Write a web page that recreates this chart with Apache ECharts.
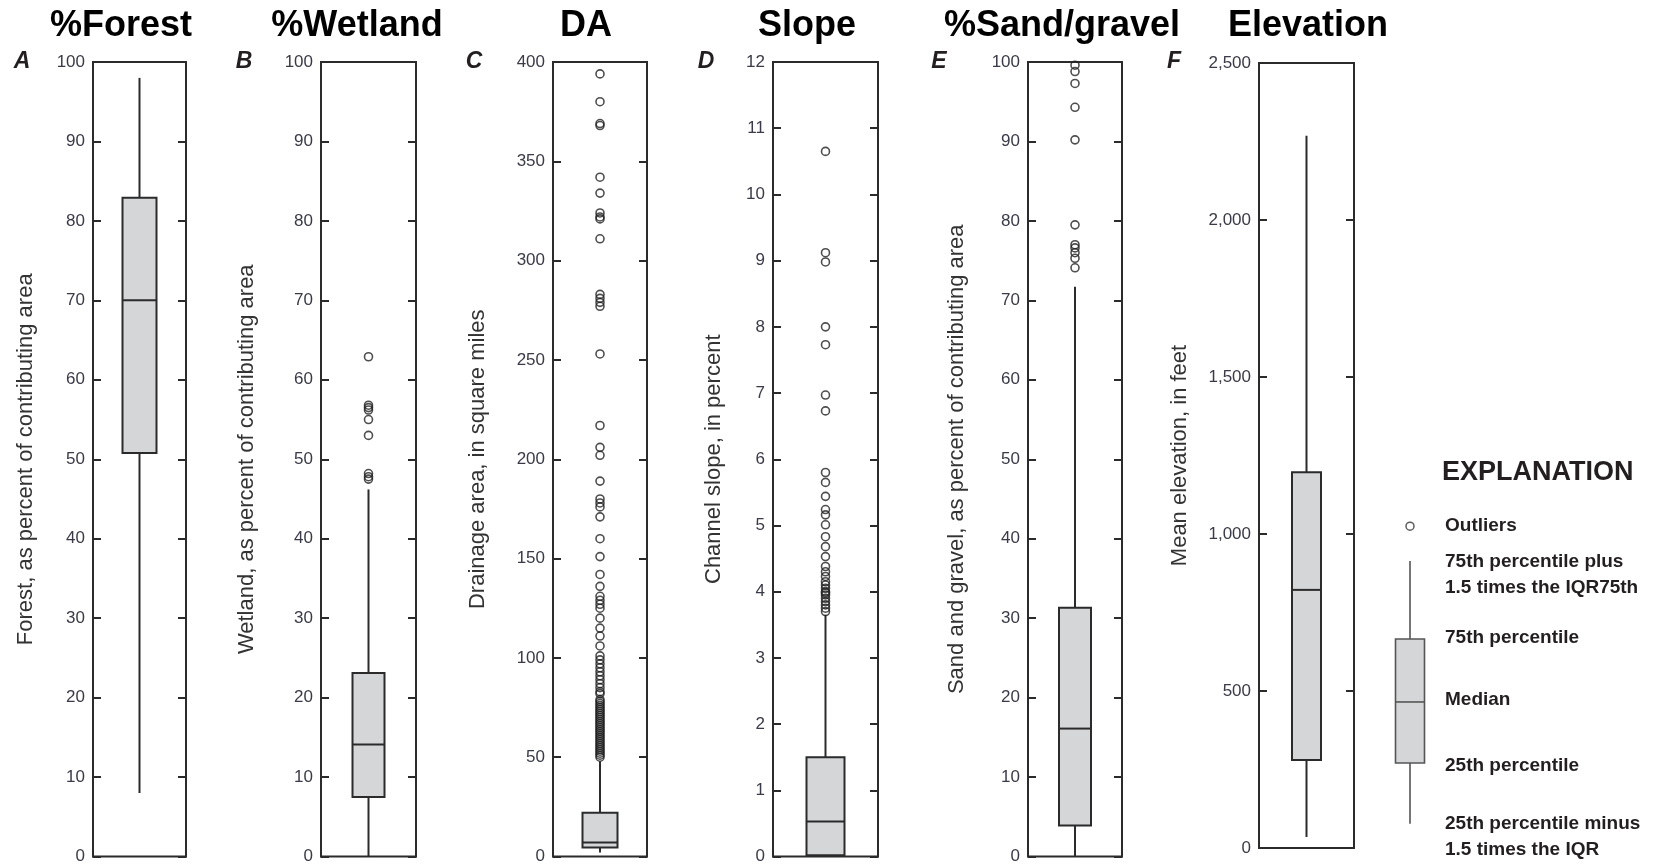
<!DOCTYPE html>
<html>
<head>
<meta charset="utf-8">
<script src="https://cdn.jsdelivr.net/npm/echarts@6/dist/echarts.min.js"></script>
<style>
  html, body { margin: 0; padding: 0; background: #fff; }
  #chart { width: 1659px; height: 865px; }
</style>
</head>
<body>
<div id="chart"></div>
<script>
// ---------- DATA ----------
const panelTitles = ['%Forest', '%Wetland', 'DA', 'Slope', '%Sand/gravel', 'Elevation'];
const panelLetters = ['A', 'B', 'C', 'D', 'E', 'F'];
const axisNames = [
  'Forest, as percent of contributing area',
  'Wetland, as percent of contributing area',
  'Drainage area, in square miles',
  'Channel slope, in percent',
  'Sand and gravel, as percent of contributing area',
  'Mean elevation, in feet'
];
const axisMax = [100, 100, 400, 12, 100, 2500];
const axisStep = [10, 10, 50, 1, 10, 500];

// [lower whisker, 25th, median, 75th, upper whisker]
const forestBox = [8, 50.8, 70, 82.9, 98];
const wetlandBox = [0, 7.5, 14.1, 23.1, 46.2];
const daBox = [2, 4.5, 7, 22, 48];
const slopeBox = [0, 0.02, 0.53, 1.5, 3.65];
const sandBox = [0, 3.9, 16.1, 31.3, 71.7];
const elevBox = [35, 280, 822, 1197, 2268];

const forestOutliers = [];
const wetlandOutliers = [62.9, 56.8, 56.5, 56.2, 55, 53, 48.2, 47.8, 47.5];
const daOutliers = [394, 380, 369, 368, 342, 334, 324, 322, 321, 311, 283, 281, 279, 277, 253,
  217, 206, 202, 189, 180, 178, 176, 171, 160, 151, 142, 136, 131, 129, 127, 125, 120, 115, 111,
  106, 101, 99, 97, 95, 93, 91, 89, 87, 85, 83, 82, 79, 78, 77, 76, 75, 74, 73, 72, 71, 70, 69,
  68, 67, 66, 65, 64, 63, 62, 61, 60, 59, 58, 57, 56, 55, 54, 53, 52, 51, 50];
const slopeOutliers = [10.65, 9.12, 8.98, 8.0, 7.73, 6.97, 6.73, 5.8, 5.65, 5.44, 5.24, 5.16,
  5.01, 4.83, 4.68, 4.53, 4.38, 4.3, 4.23, 4.15, 4.1, 4.05, 4.0, 3.98, 3.95, 3.9, 3.85, 3.8, 3.75, 3.7];
const sandOutliers = [99.6, 98.8, 97.3, 94.3, 90.2, 79.5, 77, 76.6, 76, 75.3, 74.1];
const elevOutliers = [];

// schematic legend glyph (arbitrary scale 0-10)
const legendBox = [0.2, 2.16, 4.13, 6.16, 8.68];
const legendOutlier = [9.8];
const legendLabels = ['Outliers', '75th percentile plus', '1.5 times the IQR75th', '75th percentile',
  'Median', '25th percentile', '25th percentile minus', '1.5 times the IQR'];
const legendTitle = 'EXPLANATION';

// ---------- LAYOUT ----------
const boxes = [forestBox, wetlandBox, daBox, slopeBox, sandBox, elevBox];
const outliers = [forestOutliers, wetlandOutliers, daOutliers, slopeOutliers, sandOutliers, elevOutliers];
const grids = [
  { left: 93, top: 62, width: 93, height: 795 },
  { left: 321, top: 62, width: 95, height: 795 },
  { left: 553, top: 62, width: 94, height: 795 },
  { left: 773, top: 62, width: 105, height: 795 },
  { left: 1028, top: 62, width: 94, height: 795 },
  { left: 1259, top: 63, width: 95, height: 785 },
  { left: 1380, top: 520, width: 60, height: 310 }
];
const boxWidths = [34, 32, 35, 38, 32, 29, 29];
const nameGaps = [56, 63, 64, 48, 60, 68];
const titleX = [121, 357, 586, 807, 1062, 1308];
const letterX = [22, 244, 474, 706, 939, 1174];

const FONT = "'Liberation Sans', Arial, sans-serif";
const INK = '#231f20';
const LINE = '#2b2b2b';

function fmt(v) { return String(v).replace(/\B(?=(\d{3})+(?!\d))/g, ','); }

function boxRenderer(w, color, lw) {
  return function (params, api) {
    const x = api.value(0);
    const pMin = api.coord([x, api.value(1)]);
    const pQ1 = api.coord([x, api.value(2)]);
    const pMed = api.coord([x, api.value(3)]);
    const pQ3 = api.coord([x, api.value(4)]);
    const pMax = api.coord([x, api.value(5)]);
    const cx = pQ1[0];
    const st = { stroke: color, lineWidth: lw };
    return {
      type: 'group',
      children: [
        { type: 'line', shape: { x1: cx, y1: pMin[1], x2: cx, y2: pQ1[1] }, style: st },
        { type: 'line', shape: { x1: cx, y1: pQ3[1], x2: cx, y2: pMax[1] }, style: st },
        { type: 'rect', shape: { x: cx - w / 2, y: pQ3[1], width: w, height: pQ1[1] - pQ3[1] },
          style: { fill: '#d5d6d8', stroke: color, lineWidth: lw } },
        { type: 'line', shape: { x1: cx - w / 2, y1: pMed[1], x2: cx + w / 2, y2: pMed[1] }, style: st }
      ]
    };
  };
}

const option = {
  animation: false,
  backgroundColor: '#fff',
  grid: grids.map((g, i) => Object.assign({}, g, {
    show: i < 6, borderColor: LINE, borderWidth: 2, backgroundColor: 'transparent'
  })),
  xAxis: grids.map((g, i) => ({
    type: 'value', gridIndex: i, min: -1, max: 1, show: false
  })),
  yAxis: [],
  series: [],
  graphic: []
};

for (let i = 0; i < 6; i++) {
  option.yAxis.push({
    type: 'value', gridIndex: i, min: 0, max: axisMax[i], interval: axisStep[i],
    position: 'left',
    name: axisNames[i], nameLocation: 'middle', nameGap: nameGaps[i],
    nameTextStyle: { fontFamily: FONT, fontSize: 22, color: '#333' },
    axisLine: { show: true, onZero: false, lineStyle: { color: LINE, width: 2 } },
    axisTick: { show: true, inside: true, length: 8, lineStyle: { color: LINE, width: 2 } },
    axisLabel: { show: true, margin: 8, fontFamily: FONT, fontSize: 17, color: '#3a3a48',
      formatter: fmt },
    splitLine: { show: false }
  });
  option.yAxis.push({
    type: 'value', gridIndex: i, min: 0, max: axisMax[i], interval: axisStep[i],
    position: 'right',
    axisLine: { show: true, onZero: false, lineStyle: { color: LINE, width: 2 } },
    axisTick: { show: true, inside: true, length: 8, lineStyle: { color: LINE, width: 2 } },
    axisLabel: { show: false },
    splitLine: { show: false }
  });
}
// legend axis
option.yAxis.push({ type: 'value', gridIndex: 6, min: 0, max: 10, show: false });

for (let i = 0; i < 6; i++) {
  option.series.push({
    type: 'custom', xAxisIndex: i, yAxisIndex: i * 2,
    renderItem: boxRenderer(boxWidths[i], LINE, 2),
    data: [[0].concat(boxes[i])], z: 3
  });
  option.series.push({
    type: 'scatter', xAxisIndex: i, yAxisIndex: i * 2,
    symbol: 'circle', symbolSize: 8,
    itemStyle: { color: 'rgba(0,0,0,0)', borderColor: '#222', borderWidth: 1.6 },
    data: outliers[i].map(v => [0, v]), z: 4
  });
}
option.series.push({
  type: 'custom', xAxisIndex: 6, yAxisIndex: 12,
  renderItem: boxRenderer(boxWidths[6], '#555', 1.6),
  data: [[0].concat(legendBox)]
});
option.series.push({
  type: 'scatter', xAxisIndex: 6, yAxisIndex: 12,
  symbol: 'circle', symbolSize: 8,
  itemStyle: { color: 'rgba(0,0,0,0)', borderColor: '#333', borderWidth: 1.5 },
  data: legendOutlier.map(v => [0, v])
});

// titles and letters
for (let i = 0; i < 6; i++) {
  option.graphic.push({
    type: 'text', x: titleX[i], y: 26,
    style: { text: panelTitles[i], font: "bold 36px " + FONT, fill: '#000',
      textAlign: 'center', textVerticalAlign: 'middle' }
  });
  option.graphic.push({
    type: 'text', x: letterX[i], y: 62,
    style: { text: panelLetters[i], font: "italic bold 23px " + FONT, fill: INK,
      textAlign: 'center', textVerticalAlign: 'middle' }
  });
}
// legend texts
option.graphic.push({
  type: 'text', x: 1442, y: 473,
  style: { text: legendTitle, font: "bold 27px " + FONT, fill: INK, textVerticalAlign: 'middle' }
});
const legendY = [526, 562, 588, 638, 700, 766, 824, 850];
legendLabels.forEach((t, k) => {
  option.graphic.push({
    type: 'text', x: 1445, y: legendY[k],
    style: { text: t, font: "bold 19px " + FONT, fill: INK, textVerticalAlign: 'middle' }
  });
});

const chart = echarts.init(document.getElementById('chart'), null, { renderer: 'canvas' });
chart.setOption(option);
</script>
</body>
</html>
